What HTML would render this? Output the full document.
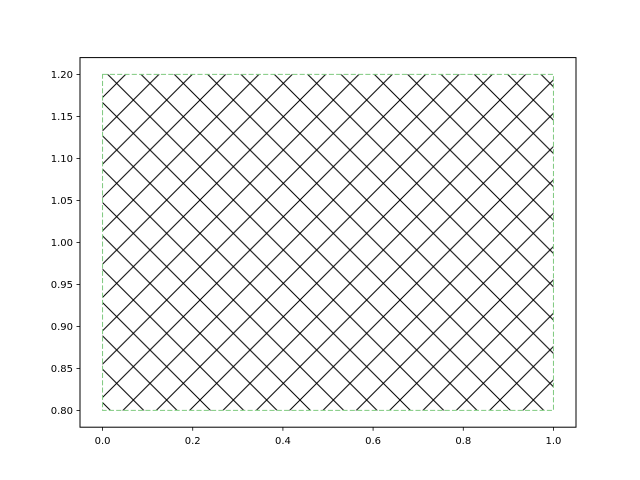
<!DOCTYPE html>
<html><head><meta charset="utf-8"><style>body{margin:0;background:#fff}svg{display:block;font-family:"DejaVu Sans","Liberation Sans",sans-serif}</style></head>
<body>
<svg id="chart" width="640" height="480" xmlns="http://www.w3.org/2000/svg">
<defs>
<pattern id="hatch" patternUnits="userSpaceOnUse" width="33.333" height="33.333">
<path d="M-1,-1 L34.333,34.333 M-1,34.333 L34.333,-1" stroke="#000" stroke-width="1"/>
</pattern>
</defs>
<rect width="640" height="480" fill="#fff"/>
<g id="plot"></g>
</svg>
<script>
const xDomain = [-0.05, 1.05];
const yDomain = [0.78, 1.22];
const rectX = [0, 1];
const rectY = [0.8, 1.2];
const xTicks = [0.0, 0.2, 0.4, 0.6, 0.8, 1.0];
const yTicks = [0.80, 0.85, 0.90, 0.95, 1.00, 1.05, 1.10, 1.15, 1.20];
const L=80,R=576,T=57.6,B=427.2;
const sx=v=>L+(v-xDomain[0])/(xDomain[1]-xDomain[0])*(R-L);
const sy=v=>B-(v-yDomain[0])/(yDomain[1]-yDomain[0])*(B-T);
const NS="http://www.w3.org/2000/svg";
const g=document.getElementById('plot');
function mk(t,a){const e=document.createElementNS(NS,t);for(const k in a)e.setAttribute(k,a[k]);g.appendChild(e);return e;}
const x0=sx(rectX[0]),x1=sx(rectX[1]),y0=sy(rectY[1]),y1=sy(rectY[0]);
let h=mk('rect',{x:x0,y:y0,width:x1-x0,height:y1-y0,fill:'url(#hatch)'});


let e=mk('rect',{x:x0,y:y0,width:x1-x0,height:y1-y0,fill:'none',stroke:'#7fc97f','stroke-width':1,'stroke-dasharray':'5.1 2.2'});


let fr=mk('rect',{x:L,y:T,width:R-L,height:B-T,fill:'none',stroke:'#000','stroke-width':1});


xTicks.forEach(v=>{const x=sx(v);
let t=mk('line',{x1:x,x2:x,y1:B,y2:B+3.5,stroke:'#000','stroke-width':0.8});


let l=mk('text',{x:x,y:B+17,'font-size':10,'text-anchor':'middle'});l.textContent=v.toFixed(1);

});
yTicks.forEach(v=>{const y=sy(v);
let t=mk('line',{x1:L-3.5,x2:L,y1:y,y2:y,stroke:'#000','stroke-width':0.8});


let l=mk('text',{x:L-7,y:y+3.6,'font-size':10,'text-anchor':'end'});l.textContent=v.toFixed(2);

});
</script>
</body></html>
